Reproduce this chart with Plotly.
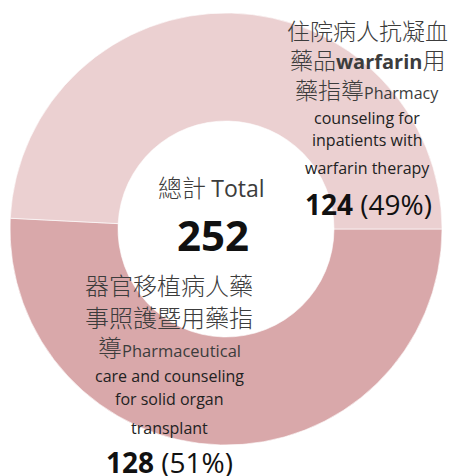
import plotly.graph_objects as go

# ---- data ----
categories = ["住院病人抗凝血藥品warfarin用藥指導 Pharmacy counseling for inpatients with warfarin therapy",
              "器官移植病人藥事照護暨用藥指導 Pharmaceutical care and counseling for solid organ transplant"]
values = [124, 128]
colors = ["#EBD0D1", "#D9A8AA"]
total = sum(values)
pcts = [round(v * 100 / total) for v in values]

W, H = 454, 476
CJK = "Noto Sans CJK TC"
LAT = "Open Sans"

# drawn clockwise from 3 o'clock: organ-transplant slice first (bottom), warfarin slice on top
fig = go.Figure(go.Pie(
    labels=categories[::-1], values=values[::-1], hole=0.5,
    sort=False, direction="clockwise", rotation=90,
    marker=dict(colors=colors[::-1], line=dict(color="rgba(255,255,255,0.6)", width=1)),
    textinfo="none", hoverinfo="label+value+percent", showlegend=False,
    domain=dict(x=[(226 - 216) / W, (226 + 216) / W],
                y=[(H - 229 - 216) / H, (H - 229 + 216) / H]),
))

def ann(text, px, py, size, family=CJK, color="#3c3c3c", weight=300):
    fig.add_annotation(text=text, x=px / W, y=1 - py / H, xref="paper", yref="paper",
                       xanchor="center", yanchor="middle", showarrow=False,
                       font=dict(family=family, size=size, color=color, weight=weight))

def en(t, size):
    return f'<span style="font-family:{LAT};font-size:{size}px;font-weight:400">{t}</span>'

# top-right label (slice 1)
ann("住院病人抗凝血", 367, 30, 23)
ann("藥品" + en("<b>warfarin</b>", 20) + "用", 367, 59, 23)
ann("藥指導" + en("Pharmacy", 16), 367, 89, 23)
ann("counseling for", 367, 118, 16, LAT, "#222", 400)
ann("inpatients with", 367, 140, 16, LAT, "#222", 400)
ann("warfarin therapy", 367, 168, 16, LAT, "#222", 400)
ann(f"<b>{values[0]}</b> ({pcts[0]}%)", 368, 204, 28, LAT, "#111", 400)

# centre
ann("總計 " + en("Total", 23), 211, 187, 24)
ann(f"<b>{total}</b>", 213, 234, 42, LAT, "#111", 400)

# bottom label (slice 2)
ann("器官移植病人藥", 169, 284, 24)
ann("事照護暨用藥指", 169, 316, 24)
ann("導" + en("Pharmaceutical", 16.5), 169, 346, 24)
ann("care and counseling", 169, 376, 16, LAT, "#222", 400)
ann("for solid organ", 169, 399, 16, LAT, "#222", 400)
ann("transplant", 169, 428, 16, LAT, "#222", 400)
ann(f"<b>{values[1]}</b> ({pcts[1]}%)", 169, 462, 28, LAT, "#111", 400)

fig.update_layout(width=W, height=H, margin=dict(l=0, r=0, t=0, b=0),
                  paper_bgcolor="white", plot_bgcolor="white")
fig.write_html("out.html", config={"displayModeBar": False},
               post_script="document.body.style.margin='0';")
